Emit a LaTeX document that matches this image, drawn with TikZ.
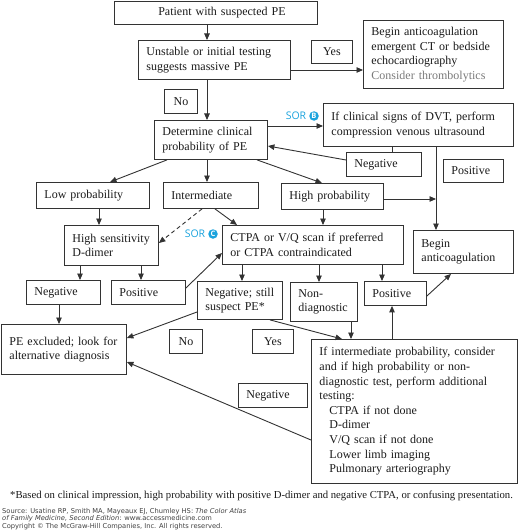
\documentclass[tikz,border=0pt]{standalone}
\usepackage{fontspec}
\setmainfont{Liberation Serif}
\newfontfamily\sorfont{Open Sans}
\newfontfamily\srcfont{DejaVu Sans}
\usetikzlibrary{arrows.meta}
\definecolor{linec}{HTML}{333333}
\definecolor{txtc}{HTML}{1A1A1A}
\definecolor{sorblue}{HTML}{1BA3DD}
\definecolor{grayt}{HTML}{7A7A7A}
\tikzset{
  box/.style={draw=linec, line width=0.9pt, inner xsep=8pt, inner ysep=0pt,
    align=left, text=txtc, font=\fontsize{12}{14.6}\selectfont},
  arr/.style={draw=linec, line width=0.9pt, -{Triangle[length=6.5pt,width=5.5pt]}},
  plain/.style={draw=linec, line width=0.9pt},
  sortext/.style={text=sorblue, font=\sorfont\fontsize{10.5}{10.5}\selectfont, inner sep=0pt},
  sorbadge/.style={circle, fill=sorblue, text=white, inner sep=0pt, minimum size=9.5pt,
    font=\sorfont\bfseries\fontsize{7.5}{7.5}\selectfont}
}
\newcommand\bx[7][]{%
  \pgfmathsetmacro\bxw{#5-#3}\pgfmathsetmacro\bxh{#6-#4}\pgfmathsetmacro\bxt{#5-#3-16}%
  \node[box, anchor=north west, minimum width=\bxw pt, minimum height=\bxh pt,
    text width=\bxt pt, #1] (#2) at (#3,#4) {#7};}
\begin{document}
\begin{tikzpicture}[x=1pt, y=-1pt]
\useasboundingbox (0,0) rectangle (520,532);
% boxes
\bx[align=center]{patient}{114}{1}{317}{24}{\hspace*{12pt}Patient with suspected PE}
\bx{unstable}{138}{40}{290}{79}{Unstable or initial testing\\suggests massive PE}
\bx[align=center]{yes1}{311}{40}{352}{63}{Yes}
\bx{emerg}{363}{20}{503}{88}{Begin anticoagulation\\emergent CT or bedside\\echocardiography\\\textcolor{grayt}{Consider thrombolytics}}
\bx[align=center]{no1}{164}{89}{197}{113}{No}
\bx{determine}{154}{120}{267}{159}{Determine clinical\\probability of PE}
\bx{dvt}{323}{103}{513}{146}{If clinical signs of DVT, perform\\compression venous ultrasound}
\bx{negdvt}{346}{152}{421}{176}{Negative}
\bx{posdvt}{443}{159}{503}{182}{Positive}
\bx{low}{36}{182}{149}{208}{Low probability}
\bx{inter}{163}{182}{258}{208}{Intermediate}
\bx{high}{281}{183}{383}{209}{High probability}
\bx{begin}{413}{230}{513}{273}{Begin\\anticoagulation}
\bx{ddimer}{64}{225}{158}{265}{High sensitivity\\D-dimer}
\bx{ctpa}{222}{225}{403}{264}{CTPA or V/Q scan if preferred\\or CTPA contraindicated}
\bx{negdd}{26}{280}{100}{304}{Negative}
\bx{posdd}{111}{280}{185}{304}{Positive}
\bx{negstill}{197}{281}{282}{319}{Negative; still\\suspect PE*}
\bx{nondiag}{290}{282}{357}{321}{Non-\\diagnostic}
\bx{posct}{364}{281}{426}{305}{Positive}
\bx{excl}{1}{324}{126}{374}{PE excluded; look for\\alternative diagnosis}
\bx[align=center]{no2}{169}{329}{202}{353}{No}
\bx[align=center]{yes2}{252}{329}{293}{353}{Yes}
\bx{big}{311}{339}{517}{483}{If intermediate probability, consider\\and if high probability or non-\\diagnostic test, perform additional\\testing:\\\hspace*{10pt}CTPA if not done\\\hspace*{10pt}D-dimer\\\hspace*{10pt}V/Q scan if not done\\\hspace*{10pt}Lower limb imaging\\\hspace*{10pt}Pulmonary arteriography}
\bx{negbot}{238}{383}{307}{407}{Negative}
% SOR labels
\node[sortext] (sorb) at (296,116) {SOR};
\node[sorbadge] (sorbb) at (314,116) {B};
\node[sortext] (sorc) at (195,234) {SOR};
\node[sorbadge] (sorcc) at (213,234) {C};
% connectors
\draw[arr] (patient.south -| 207,0) -- (unstable.north -| 207,0);
\draw[arr] (unstable.south -| 207,0) -- (determine.north -| 207,0);
\draw[arr] (unstable.east |- 0,70) -- (emerg.west |- 0,70);
\draw[arr] (determine.east |- 0,126) -- (dvt.west |- 0,126);
\draw[plain] (dvt.south -| 392,0) -- (negdvt.north -| 392,0);
\draw[arr] (negdvt.west |- 0,160) -- (determine.east |- 0,146);
\draw[arr] (dvt.south -| 436,0) -- (begin.north -| 436,0);
\coordinate (join) at (436,199);
\draw[arr] (high.east |- join) -- (join);
\draw[arr] (determine.south -| 167,0) -- (low.north -| 110,0);
\draw[arr] (determine.south -| 207,0) -- (inter.north -| 207,0);
\draw[arr] (determine.south -| 257,0) -- (high.north -| 322,0);
\draw[arr] (low.south -| 99,0) -- (ddimer.north -| 99,0);
\draw[arr, dash pattern=on 4pt off 3pt] (inter.south -| 202,0) -- (ddimer.east |- 0,243);
\draw[arr] (inter.south -| 215,0) -- (ctpa.north -| 237,0);
\draw[arr] (high.south -| 323,0) -- (ctpa.north -| 323,0);
\draw[arr] (ddimer.south -| 80,0) -- (negdd.north -| 80,0);
\draw[arr] (ddimer.south -| 141,0) -- (posdd.north -| 141,0);
\draw[arr] (posdd.east |- 0,288) -- (ctpa.west |- 0,253);
\draw[arr] (ctpa.south -| 242,0) -- (negstill.north -| 242,0);
\draw[arr] (ctpa.south -| 319,0) -- (nondiag.north -| 319,0);
\draw[arr] (ctpa.south -| 382,0) -- (posct.north -| 382,0);
\draw[arr] (posct.east |- 0,296) -- (begin.south -| 451,0);
\draw[arr] (negdd.south -| 59,0) -- (excl.north -| 59,0);
\draw[arr] (negstill.west |- 0,312) -- (excl.east |- 0,338);
\draw[arr] (negstill.south -| 270,0) -- (big.north -| 342,0);
\draw[arr] (nondiag.south -| 351,0) -- (big.north -| 351,0);
\draw[arr] (big.north -| 392,0) -- (posct.south -| 392,0);
\draw[arr] (big.west |- 0,440) -- (excl.east |- 0,362);
% footnote and source
\node[anchor=west, inner sep=0pt, text=txtc, font=\fontsize{10.7}{12}\selectfont] (foot) at (10,496)
  {*Based on clinical impression, high probability with positive D-dimer and negative CTPA, or confusing presentation.};
\node[anchor=west, inner sep=0pt, align=left, text=black!75, font=\srcfont\fontsize{6.7}{7.2}\selectfont] (src) at (2,519)
  {Source: Usatine RP, Smith MA, Mayeaux EJ, Chumley HS: \textit{The Color Atlas}\\\textit{of Family Medicine, Second Edition}: www.accessmedicine.com\\Copyright © The McGraw-Hill Companies, Inc. All rights reserved.};
\end{tikzpicture}
\end{document}
